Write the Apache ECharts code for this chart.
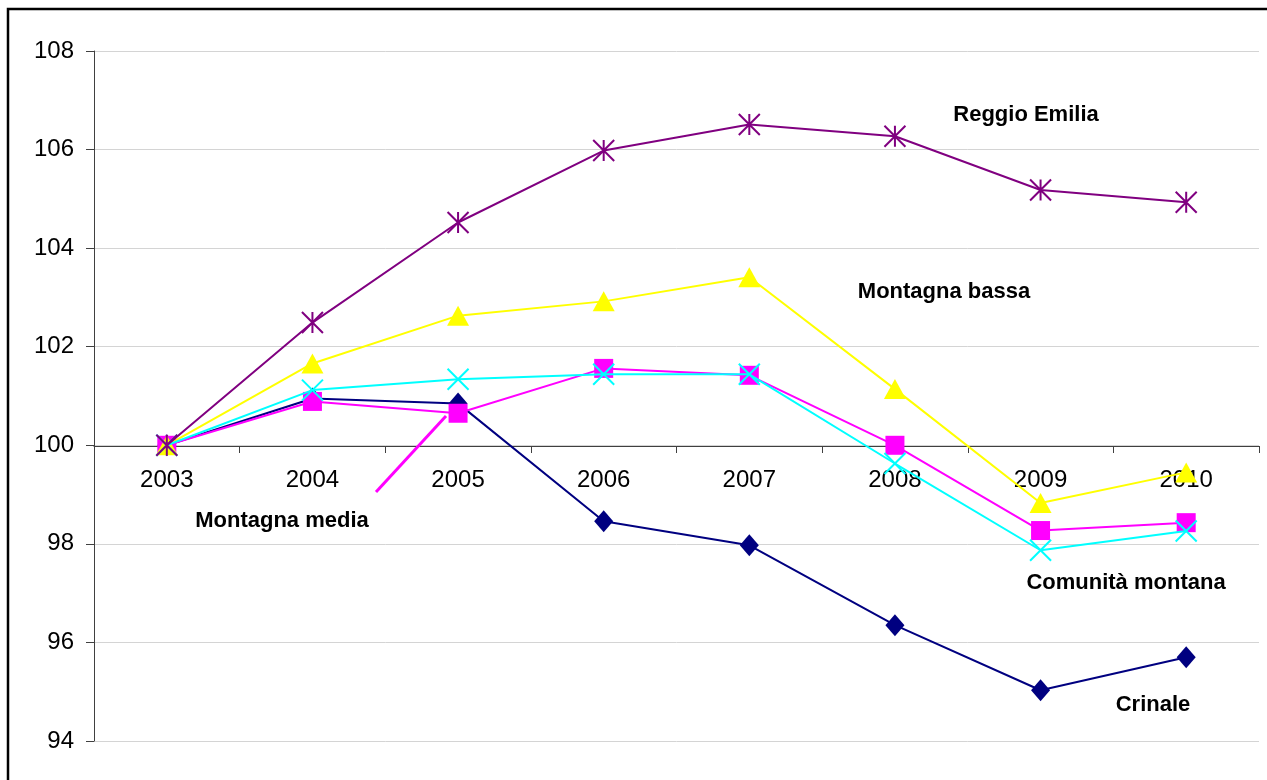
<!DOCTYPE html>
<html><head><meta charset="utf-8">
<script src="https://cdn.jsdelivr.net/npm/echarts@6/dist/echarts.min.js"></script>
<style>html,body{margin:0;padding:0;background:#fff}#c{width:1267px;height:780px}</style>
</head><body><div id="c"></div>
<script>
const years = ['2003','2004','2005','2006','2007','2008','2009','2010'];
const yTicks = [94, 96, 98, 100, 102, 104, 106, 108];
const reggioEmilia   = [100, 102.49, 104.52, 105.98, 106.51, 106.27, 105.18, 104.93];
const montagnaBassa  = [100, 101.66, 102.63, 102.92, 103.41, 101.14, 98.83, 99.45];
const comunitaMont   = [100, 101.12, 101.34, 101.44, 101.44, 99.63, 97.87, 98.26];
const montagnaMedia  = [100, 100.89, 100.65, 101.56, 101.42, 100.0, 98.27, 98.43];
const crinale        = [100, 100.95, 100.85, 98.46, 97.97, 96.35, 95.03, 95.70];

const chart = echarts.init(document.getElementById('c'), null, {renderer:'canvas'});
const font = '"Liberation Sans", Arial, sans-serif';
const asterisk = 'path://M0 0 L10 10 M10 0 L0 10 M5 0 L5 10';
const cross = 'path://M0 0 L10 10 M10 0 L0 10';
function ser(name, data, color, symbol, size, z, stroke) {
  const s = {
    name, type:'line', data, z, symbol, symbolSize:size, showSymbol:true,
    lineStyle:{color, width:2}, itemStyle:{color}, animation:false
  };
  if (stroke) { s.itemStyle = {color:'none', borderColor:color, borderWidth:2}; }
  return s;
}
function lbl(text, x, y) {
  return {type:'text', x, y, z:50, style:{text, font:'bold 22px '+font, fill:'#000', textAlign:'center', textVerticalAlign:'middle'}};
}
chart.setOption({
  animation:false,
  backgroundColor:'#fff',
  grid:{left:94, right:8, top:51, bottom:39},
  xAxis:{
    type:'category', data:years, boundaryGap:true, offset:-295,
    axisLine:{lineStyle:{color:'#404040', width:1}},
    axisTick:{show:true, length:7, alignWithLabel:false, lineStyle:{color:'#404040'}},
    axisLabel:{fontFamily:font, fontSize:24, color:'#000', margin:22},
    splitLine:{show:false}
  },
  yAxis:{
    type:'value', min:yTicks[0], max:yTicks[yTicks.length-1], interval:2,
    axisLine:{show:true, lineStyle:{color:'#404040', width:1}},
    axisTick:{show:true, length:8, lineStyle:{color:'#404040'}},
    axisLabel:{fontFamily:font, fontSize:24, color:'#000', margin:20},
    splitLine:{show:true, lineStyle:{color:'#d4d4d4', width:1}}
  },
  series:[
    ser('Crinale', crinale, '#000080', 'diamond', [19,22], 2),
    ser('Montagna media', montagnaMedia, '#FF00FF', 'rect', 19, 3),
    ser('Montagna bassa', montagnaBassa, '#FFFF00', 'triangle', [22,20], 4),
    ser('Comunità montana', comunitaMont, '#00FFFF', cross, 21, 5, true),
    ser('Reggio Emilia', reggioEmilia, '#800080', asterisk, 21, 6, true)
  ],
  graphic:[
    {type:'rect', shape:{x:8, y:9, width:1300, height:800}, style:{fill:'none', stroke:'#000', lineWidth:2.5}, z:100},
    {type:'line', shape:{x1:376, y1:492, x2:446, y2:416}, style:{stroke:'#FF00FF', lineWidth:3}, z:1},
    lbl('Reggio Emilia', 1026, 115),
    lbl('Montagna bassa', 944, 292),
    lbl('Montagna media', 282, 521),
    lbl('Comunità montana', 1126, 583),
    lbl('Crinale', 1153, 705)
  ]
});
</script></body></html>
